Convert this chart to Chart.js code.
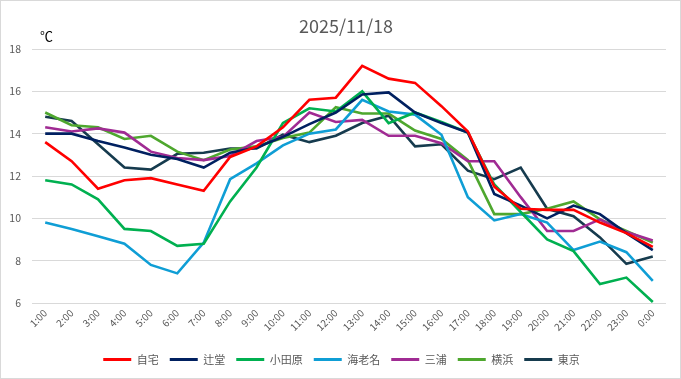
<!DOCTYPE html>
<html><head><meta charset="utf-8">
<script src="https://cdn.jsdelivr.net/npm/chart.js@4/dist/chart.umd.min.js"></script>
<style>html,body{margin:0;padding:0;background:#fff}#wrap{width:681px;height:379px;position:relative}</style>
</head><body><div id="wrap"><canvas id="c" width="681" height="379"></canvas></div>
<script>
const chartTitle = '2025/11/18';
const unitLabel = '℃';
const hours = ['1:00','2:00','3:00','4:00','5:00','6:00','7:00','8:00','9:00','10:00','11:00','12:00',
  '13:00','14:00','15:00','16:00','17:00','18:00','19:00','20:00','21:00','22:00','23:00','0:00'];
const yTicks = [6, 8, 10, 12, 14, 16, 18];

const jitaku   = [13.6,12.7,11.4,11.8,11.9,11.6,11.3,12.9,13.4,14.3,15.6,15.7,17.2,16.6,16.4,15.3,14.1,11.5,10.45,10.4,10.4,9.8,9.3,8.65];
const tsujido  = [14.0,14.0,13.65,13.35,13.0,12.8,12.4,13.1,13.35,13.85,14.45,15.0,15.85,15.95,15.0,14.5,14.05,11.15,10.6,10.0,10.6,10.2,9.3,8.5];
const odawara  = [11.8,11.6,10.9,9.5,9.4,8.7,8.8,10.8,12.4,14.5,15.2,15.05,16.0,14.5,15.0,14.55,14.05,11.6,10.3,9.0,8.45,6.9,7.2,6.05];
const ebina    = [9.8,9.5,9.15,8.8,7.8,7.4,8.85,11.85,12.6,13.45,14.0,14.2,15.6,15.05,14.9,13.95,11.0,9.9,10.2,9.8,8.5,8.9,8.4,7.05];
const miura    = [14.3,14.1,14.25,14.05,13.15,12.85,12.75,12.95,13.65,13.85,15.0,14.55,14.65,13.9,13.9,13.55,12.7,12.7,11.0,9.4,9.4,9.95,9.35,8.95];
const yokohama = [15.0,14.4,14.3,13.75,13.9,13.15,12.75,13.25,13.4,13.8,14.05,15.25,14.95,14.95,14.15,13.75,12.75,10.2,10.2,10.45,10.8,9.95,9.4,8.85];
const tokyo    = [14.8,14.6,13.5,12.4,12.3,13.05,13.1,13.3,13.3,13.95,13.6,13.9,14.5,14.85,13.4,13.5,12.25,11.85,12.4,10.45,10.1,9.1,7.85,8.2];

const seriesNames = ['自宅','辻堂','小田原','海老名','三浦','横浜','東京'];
const seriesData = [jitaku, tsujido, odawara, ebina, miura, yokohama, tokyo];
const seriesColors = ['#FF0000','#002060','#00B050','#0F9ED5','#A02B93','#4EA72E','#163B4E'];

const FONT = '"Noto Sans CJK JP", "Liberation Sans", sans-serif';
const TXT = '#595959';

const datasets = seriesNames.map((n, i) => ({
  label: n,
  data: seriesData[i],
  borderColor: seriesColors[i],
  backgroundColor: seriesColors[i],
  borderWidth: 2.6,
  pointRadius: 0,
  pointHoverRadius: 0,
  tension: 0,
  fill: false
}));

const decor = {
  id: 'decor',
  afterLayout(chart) {
    if (chart.legend) { chart.legend.left += 17; }
  },
  beforeDraw(chart) {
    const ctx = chart.ctx;
    ctx.save();
    ctx.fillStyle = '#ffffff';
    ctx.fillRect(0, 0, chart.width, chart.height);
    ctx.restore();
  },
  afterDraw(chart) {
    const ctx = chart.ctx;
    ctx.save();
    ctx.fillStyle = TXT;
    ctx.font = '18px ' + FONT;
    ctx.textAlign = 'center';
    ctx.textBaseline = 'middle';
    ctx.fillText(chartTitle, 346, 26);
    ctx.fillStyle = '#000000';
    ctx.font = '13px ' + FONT;
    ctx.textAlign = 'left';
    ctx.fillText(unitLabel, 40, 36);
    ctx.strokeStyle = '#d9d9d9';
    ctx.lineWidth = 1;
    ctx.strokeRect(0.5, 0.5, chart.width - 1, chart.height - 1);
    ctx.restore();
  }
};

new Chart(document.getElementById('c'), {
  type: 'line',
  data: { labels: hours, datasets },
  options: {
    responsive: false,
    animation: false,
    devicePixelRatio: 1,
    layout: { padding: { top: 49, left: 0, right: 15, bottom: 4 } },
    plugins: {
      title: { display: false },
      tooltip: { enabled: false },
      legend: {
        position: 'bottom',
        labels: {
          boxWidth: 28,
          boxHeight: 3,
          padding: 11,
          color: TXT,
          font: { family: FONT, size: 11 },
          generateLabels(chart) {
            return chart.data.datasets.map((d, i) => ({
              text: d.label,
              fillStyle: d.borderColor,
              strokeStyle: d.borderColor,
              lineWidth: 0,
              fontColor: TXT,
              hidden: false,
              datasetIndex: i
            }));
          }
        }
      }
    },
    scales: {
      x: {
        offset: true,
        grid: { display: false, drawTicks: false },
        border: { display: false },
        ticks: {
          color: TXT,
          font: { family: FONT, size: 10 },
          maxRotation: 45,
          minRotation: 45,
          autoSkip: false,
          padding: 4
        },
        afterFit(s) { s.height = 40; }
      },
      y: {
        min: 6,
        max: 18,
        afterBuildTicks(s) { s.ticks = yTicks.map(v => ({ value: v })); },
        grid: { color: '#d9d9d9', lineWidth: 1, drawTicks: false },
        border: { display: false },
        ticks: {
          color: TXT,
          font: { family: FONT, size: 10.5 },
          padding: 11
        },
        afterFit(s) { s.width = 32; }
      }
    }
  },
  plugins: [decor]
});
</script>
</body></html>
